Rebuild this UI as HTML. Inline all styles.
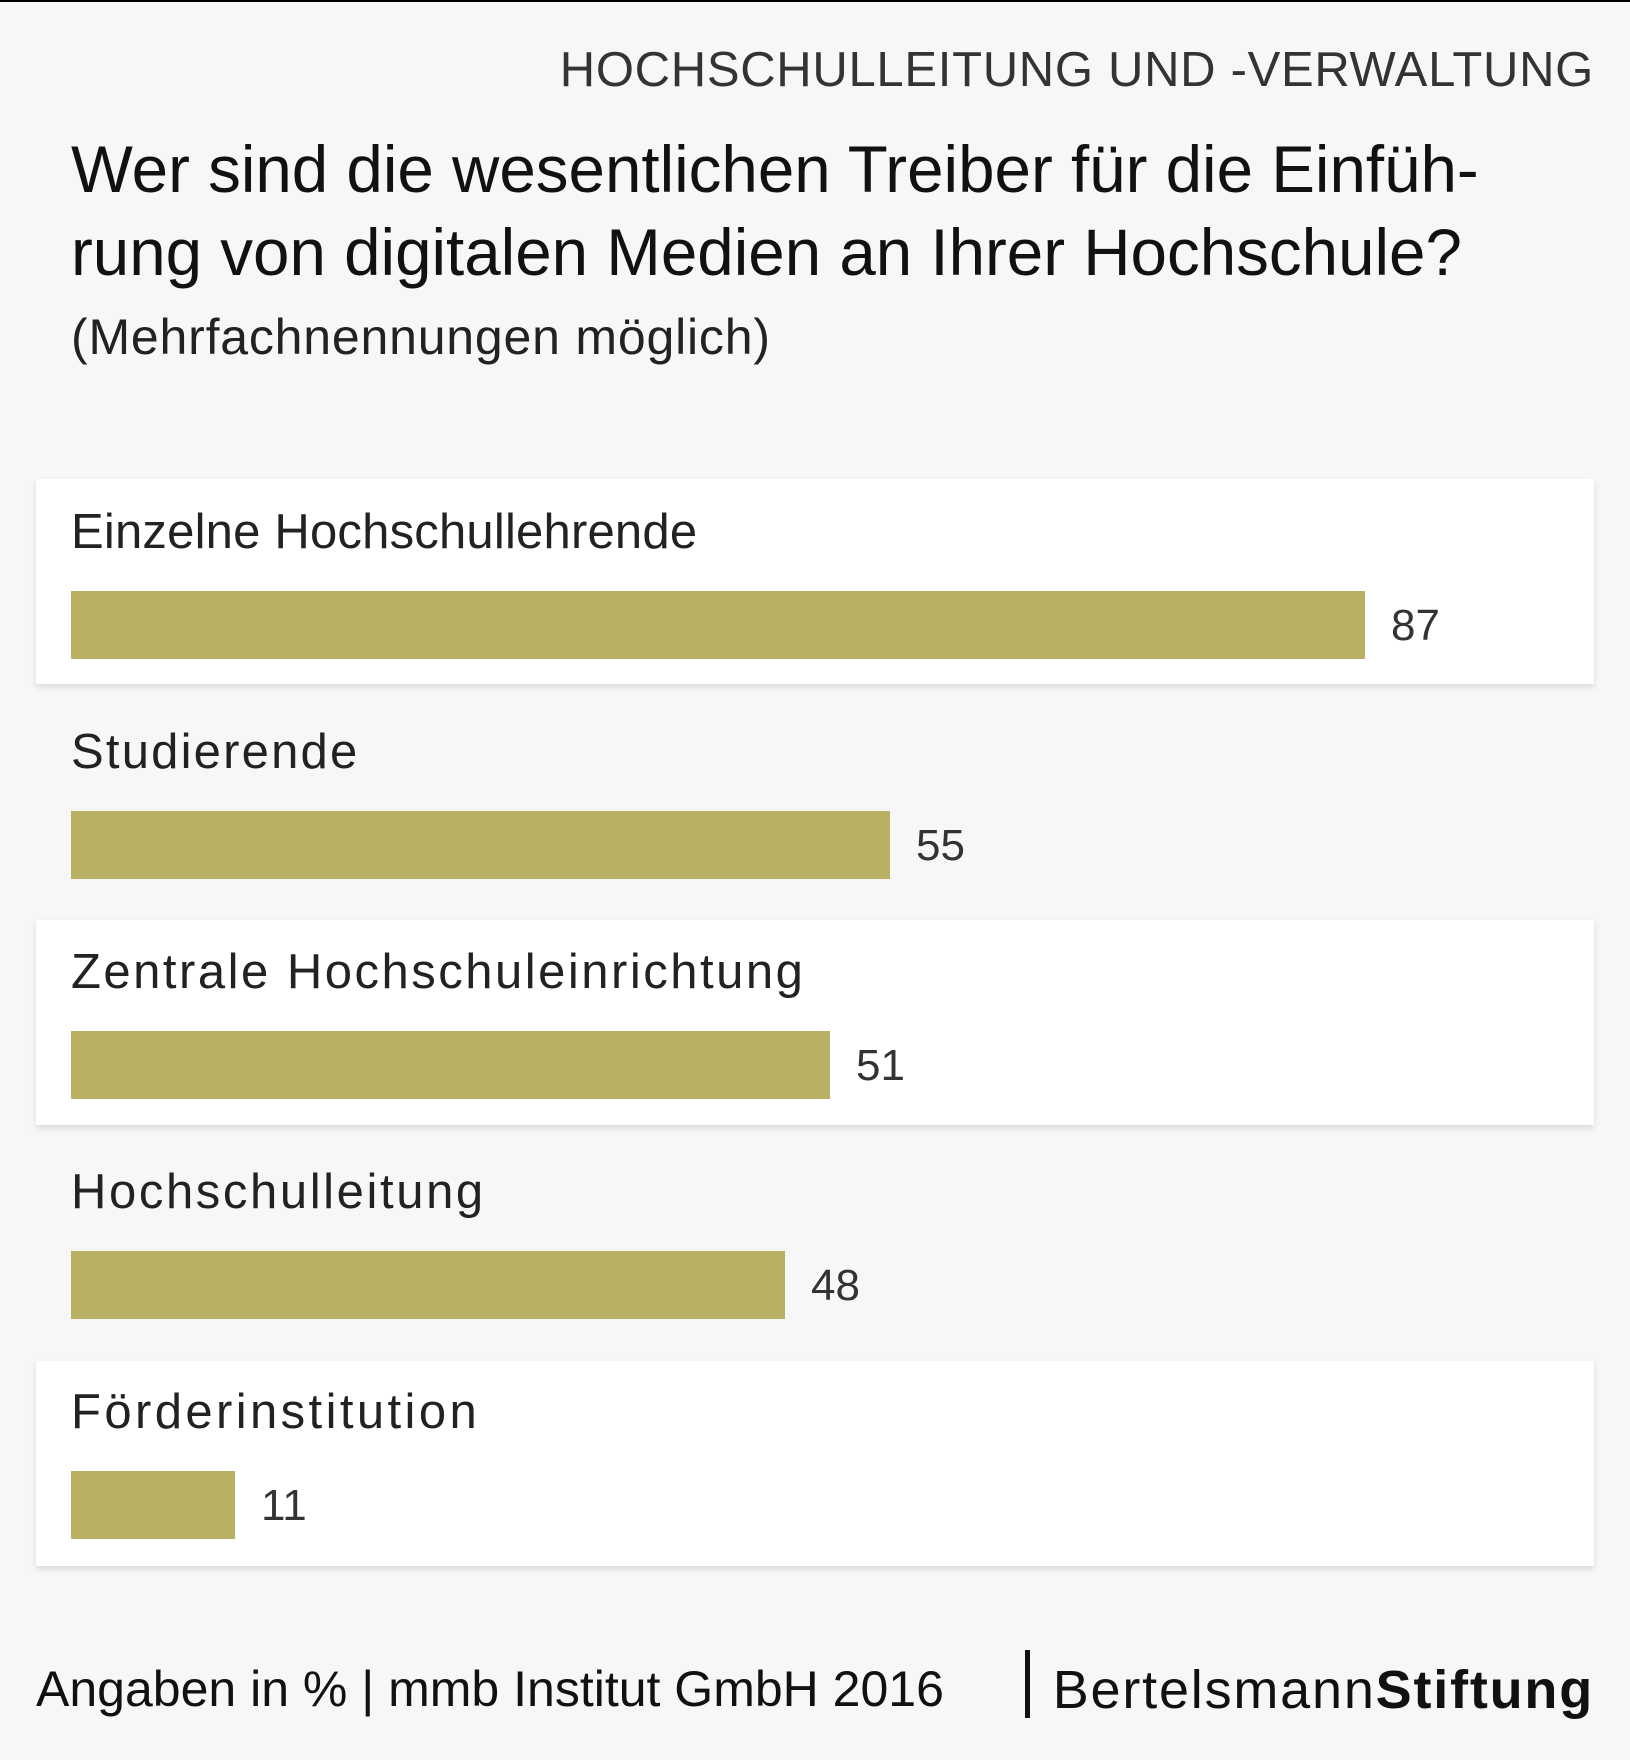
<!DOCTYPE html>
<html><head><meta charset="utf-8"><style>
body{margin:0;width:1630px;height:1760px;background:#f7f7f7;position:relative;overflow:hidden;font-family:"Liberation Sans",sans-serif;color:#222}
.t{position:absolute;white-space:nowrap}
.card{position:absolute;left:36px;width:1558px;height:205px;background:#fff;box-shadow:0 3px 6px rgba(0,0,0,0.12)}
.bar{position:absolute;left:71px;height:68px;background:#b8b063}
.lab{position:absolute;left:71px;font-size:49px;line-height:1;color:#222;white-space:nowrap}
.val{position:absolute;font-size:44px;line-height:1;color:#333}
</style></head><body>
<div style="position:absolute;left:0;top:0;width:1630px;height:2px;background:#000"></div>
<div class="t" style="right:36px;top:42px;font-size:49px;color:#333;letter-spacing:0.7px">HOCHSCHULLEITUNG UND -VERWALTUNG</div>
<div class="t" style="left:71px;top:128px;font-size:65.5px;line-height:83px;color:#111">Wer sind die wesentlichen Treiber für die Einfüh-<br>rung von digitalen Medien an Ihrer Hochschule?</div>
<div class="t" style="left:71px;top:308px;font-size:50px;color:#222;letter-spacing:0.8px">(Mehrfachnennungen möglich)</div>

<div class="card" style="top:479px"></div>
<div class="card" style="top:920px"></div>
<div class="card" style="top:1361px"></div>

<div class="lab" style="top:508px;letter-spacing:0.2px">Einzelne Hochschullehrende</div>
<div class="bar" style="top:591px;width:1294px"></div>
<div class="val" style="left:1391px;top:604px">87</div>

<div class="lab" style="top:728px;letter-spacing:2.2px">Studierende</div>
<div class="bar" style="top:811px;width:819px"></div>
<div class="val" style="left:916px;top:824px">55</div>

<div class="lab" style="top:948px;letter-spacing:2.5px">Zentrale Hochschuleinrichtung</div>
<div class="bar" style="top:1031px;width:759px"></div>
<div class="val" style="left:856px;top:1044px">51</div>

<div class="lab" style="top:1168px;letter-spacing:2.6px">Hochschulleitung</div>
<div class="bar" style="top:1251px;width:714px"></div>
<div class="val" style="left:811px;top:1264px">48</div>

<div class="lab" style="top:1388px;letter-spacing:3.4px">Förderinstitution</div>
<div class="bar" style="top:1471px;width:164px"></div>
<div class="val" style="left:261px;top:1484px">11</div>

<div class="t" style="left:36px;top:1660px;font-size:50px;color:#111">Angaben in % | mmb Institut GmbH 2016</div>
<div style="position:absolute;left:1025px;top:1650px;width:5px;height:68px;background:#111"></div>
<div class="t" style="right:36px;top:1659px;font-size:54px;color:#111;letter-spacing:1.8px">Bertelsmann<b>Stiftung</b></div>
</body></html>
